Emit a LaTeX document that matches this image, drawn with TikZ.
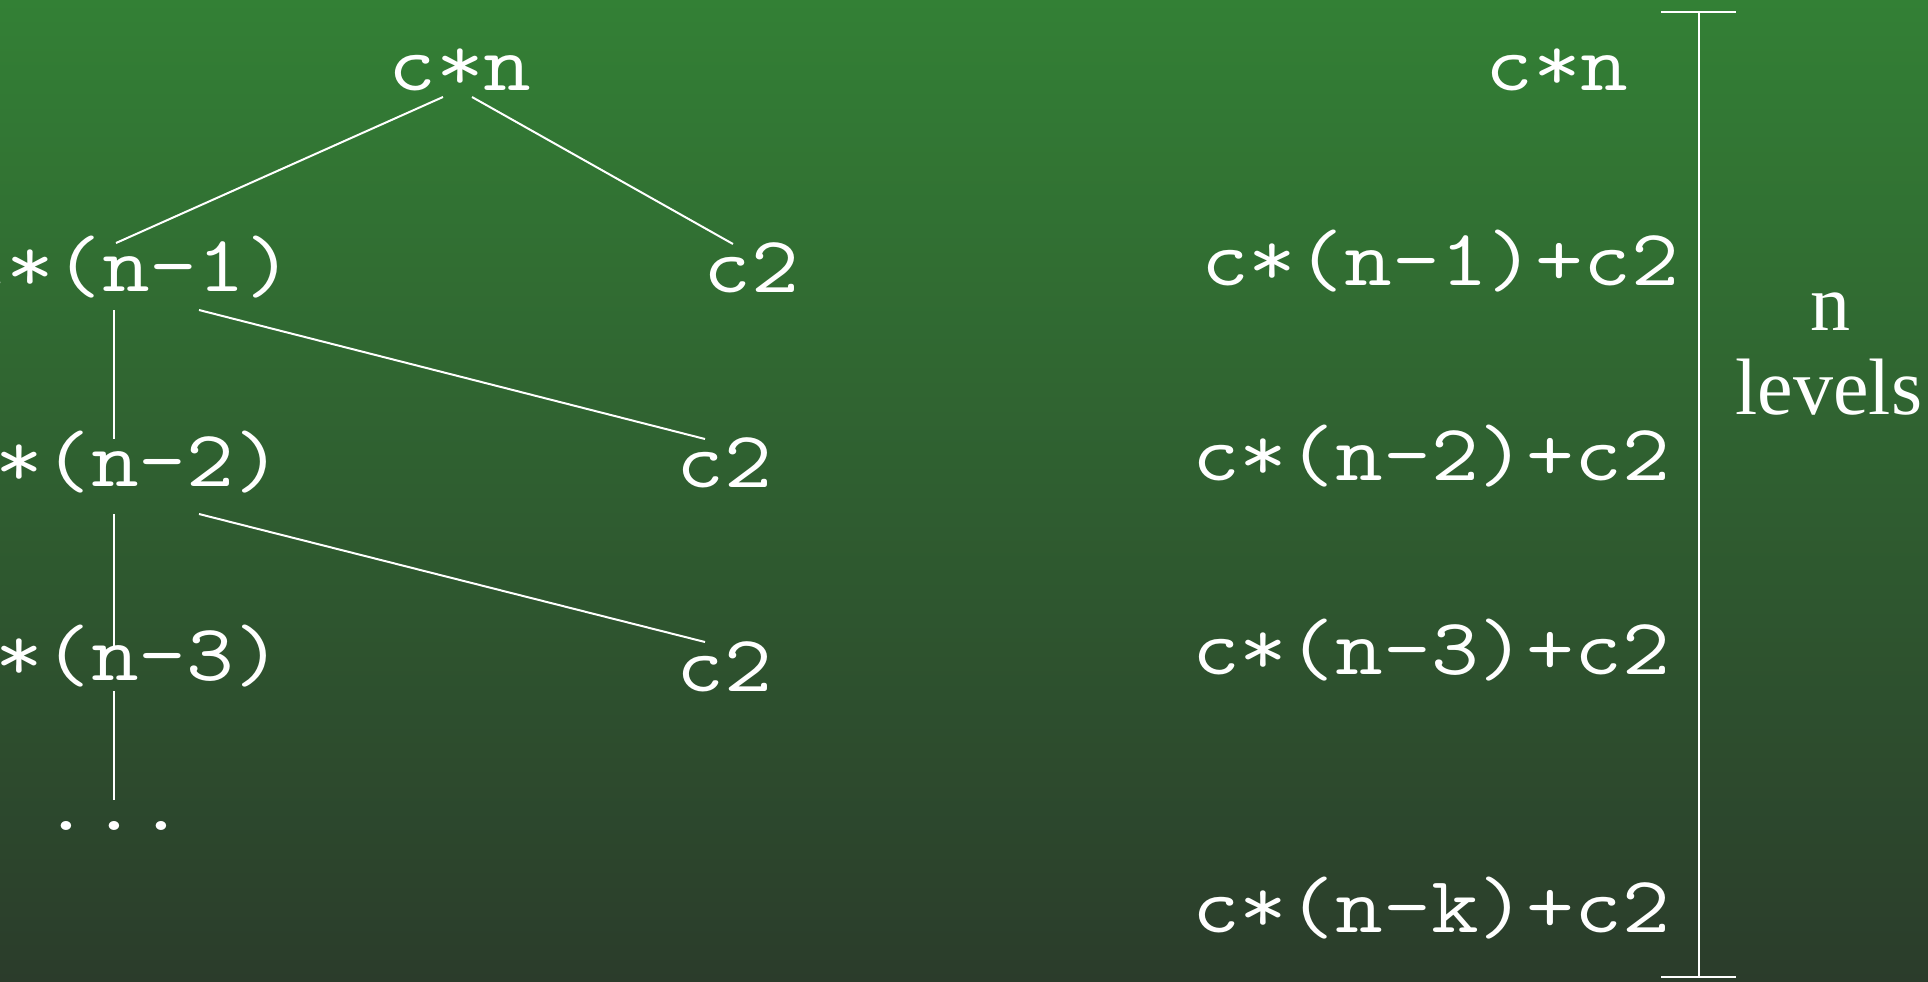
\documentclass[tikz,border=0pt]{standalone}
\usepackage{fontspec}
\newfontfamily\lserif{Liberation Serif}
\usetikzlibrary{calc}
\newcommand{\wtt}[1]{\scalebox{1.16}[1]{#1}}
\definecolor{bgtop}{RGB}{51,128,53}
\definecolor{bgbot}{RGB}{43,60,43}
\tikzset{
  code/.style={text=white, inner sep=0pt, anchor=base, font=\fontsize{40}{48}\selectfont\ttfamily},
  lbl/.style={text=white, inner sep=0pt, anchor=base, font=\fontsize{40}{48}\selectfont\lserif},
  edge/.style={white, line width=1pt},
}
\begin{document}
\begin{tikzpicture}[x=0.5pt,y=-0.5pt]
\path[use as bounding box] (0,0) rectangle (1928,981);
\clip (0,0) rectangle (1928,981);
\shade[top color=bgtop, bottom color=bgbot] (0,0) rectangle (1928,981);

% left tree
\node[code] (cn) at (460,90) {\wtt{c*n}};
\node[code] (l1) at (126,291) {\wtt{c*(n–1)}};
\node[code] (r1) at (751,292) {\wtt{c2}};
\node[code] (l2) at (115,486) {\wtt{c*(n–2)}};
\node[code] (r2) at (724,487) {\wtt{c2}};
\node[code] (l3) at (115,680) {\wtt{c*(n–3)}};
\node[code] (r3) at (724,691) {\wtt{c2}};
\node[code] (dots) at (114,830) {\wtt{...}};

\draw[edge] ($(cn.base)+(-17,7)$) -- ($(l1.base)+(-10,-48)$);
\draw[edge] ($(cn.base)+(12,7)$) -- ($(r1.base)+(-18,-48)$);
\draw[edge] ($(l1.base)+(-12,19)$) -- ($(l2.base)+(-1,-47)$);
\draw[edge] ($(l1.base)+(73,19)$) -- ($(r2.base)+(-19,-48)$);
\draw[edge] ($(l2.base)+(-1,28)$) -- ($(l3.base)+(-1,-30)$);
\draw[edge] ($(l2.base)+(84,28)$) -- ($(r3.base)+(-19,-49)$);
\draw[edge] ($(l3.base)+(-1,11)$) -- ($(dots.base)+(0,-30)$);

% right column
\node[code] (s0) at (1557,90) {\wtt{c*n}};
\node[code] (s1) at (1440,285) {\wtt{c*(n–1)+c2}};
\node[code] (s2) at (1431,480) {\wtt{c*(n–2)+c2}};
\node[code] (s3) at (1431,674) {\wtt{c*(n–3)+c2}};
\node[code] (sk) at (1431,932) {\wtt{c*(n–k)+c2}};

% bracket
\coordinate (bt) at (1699,12);
\coordinate (bb) at (1699,977);
\draw[edge] (bt) -- (bb);
\draw[edge] ($(bt)+(-38,0)$) -- ($(bt)+(37,0)$);
\draw[edge] ($(bb)+(-38,0)$) -- ($(bb)+(37,0)$);
\node[lbl] (nn) at (1830,330) {n};
\node[lbl] (lev) at (1829,414) {levels};
\end{tikzpicture}
\end{document}
